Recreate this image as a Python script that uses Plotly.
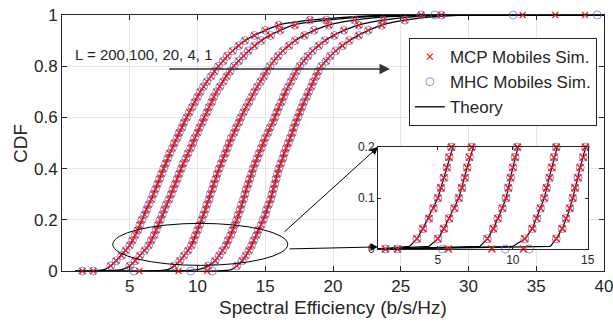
import plotly.graph_objects as go

# ---------------- data ----------------
# marker CDF levels (empirical CDF quantiles)
mk_cdf = [0.0] + [round(0.02 * i, 2) for i in range(1, 50)] + [1.0]

mcp_x1 = [1.5, 3.6, 4.0, 4.4, 4.7, 5.0, 5.2, 5.4, 5.6, 5.75, 5.9, 6.1, 6.25, 6.4, 6.6, 6.75, 6.9, 7.05, 7.2, 7.35, 7.5,
          7.65, 7.8, 7.95, 8.15, 8.3, 8.5, 8.65, 8.85, 9.0, 9.2, 9.4, 9.6, 9.8, 10.0, 10.2, 10.45, 10.7, 11.0, 11.25,
          11.55, 11.9, 12.2, 12.6, 13.05, 13.5, 14.2, 15.0, 16.0, 18.3, 26.5]
mcp_x2 = [2.3, 5.0, 5.4, 5.75, 6.1, 6.4, 6.6, 6.8, 6.95, 7.1, 7.25, 7.4, 7.55, 7.7, 7.9, 8.05, 8.2, 8.35, 8.5, 8.65, 8.8,
          8.95, 9.15, 9.3, 9.5, 9.65, 9.8, 10.0, 10.15, 10.35, 10.5, 10.7, 10.85, 11.05, 11.2, 11.4, 11.65, 11.9, 12.15,
          12.4, 12.7, 13.05, 13.4, 13.75, 14.2, 14.7, 15.4, 16.1, 17.2, 19.5, 28.0]
mcp_x3 = [5.7, 8.3, 8.7, 9.0, 9.3, 9.55, 9.7, 9.85, 10.0, 10.15, 10.3, 10.45, 10.6, 10.7, 10.85, 10.95, 11.1, 11.2, 11.35,
          11.45, 11.6, 11.75, 11.9, 12.05, 12.2, 12.35, 12.5, 12.7, 12.85, 13.05, 13.2, 13.4, 13.6, 13.8, 14.0, 14.2,
          14.4, 14.65, 14.9, 15.1, 15.35, 15.65, 15.95, 16.3, 16.75, 17.2, 17.9, 18.6, 19.7, 21.6, 34.0]
mcp_x4 = [8.6, 10.8, 11.3, 11.6, 11.85, 12.1, 12.25, 12.45, 12.6, 12.75, 12.9, 13.0, 13.15, 13.25, 13.4, 13.5, 13.6,
          13.75, 13.85, 14.0, 14.1, 14.25, 14.4, 14.55, 14.7, 14.85, 15.0, 15.2, 15.35, 15.55, 15.7, 15.85, 16.0, 16.2,
          16.35, 16.5, 16.7, 16.9, 17.1, 17.3, 17.55, 17.85, 18.15, 18.5, 18.95, 19.4, 20.1, 20.8, 21.9, 23.7, 36.4]
mcp_x5 = [10.7, 12.9, 13.3, 13.55, 13.8, 14.0, 14.15, 14.35, 14.5, 14.7, 14.85, 15.0, 15.1, 15.25, 15.4, 15.5, 15.6,
          15.7, 15.8, 15.9, 16.0, 16.15, 16.3, 16.4, 16.55, 16.7, 16.85, 17.0, 17.1, 17.25, 17.4, 17.55, 17.7, 17.85,
          18.05, 18.2, 18.4, 18.55, 18.75, 18.9, 19.15, 19.5, 19.8, 20.2, 20.7, 21.2, 21.9, 22.6, 23.6, 25.3, 38.6]

mhc_x1 = [1.5] + mcp_x1[1:-1] + [26.5]
mhc_x2 = [2.3] + mcp_x2[1:-1] + [28.0]
mhc_x3 = [5.3] + mcp_x3[1:-1] + [27.5]
mhc_x4 = [9.5] + mcp_x4[1:-1] + [33.3]
mhc_x5 = [11.1] + mcp_x5[1:-1] + [39.5]

# theory curves
th_cdf = [0.0, 0.005, 0.02, 0.04, 0.07, 0.10, 0.16, 0.22, 0.30, 0.40, 0.50, 0.60, 0.70, 0.79, 0.85, 0.90, 0.94,
          0.965, 0.98, 0.99, 0.997, 1.0, 1.0]
th_x1 = [1, 3.1, 3.6, 4.0, 4.5, 5.0, 5.6, 6.05, 6.75, 7.5, 8.3, 9.2, 10.2, 11.4, 12.4, 13.5, 15.0, 16.3, 18.3, 20.5,
         23, 26, 40]
th_x2 = [1, 4.4, 5.0, 5.4, 5.9, 6.4, 6.95, 7.45, 8.05, 8.8, 9.65, 10.5, 11.4, 12.5, 13.6, 14.7, 16.1, 17.4, 19.5,
         21.5, 24, 27, 40]
th_x3 = [1, 7.8, 8.3, 8.7, 9.15, 9.55, 10.0, 10.45, 10.95, 11.6, 12.35, 13.2, 14.2, 15.2, 16.1, 17.2, 18.6, 20.0,
         21.6, 23.2, 25.5, 28, 40]
th_x4 = [1, 10.0, 10.8, 11.3, 11.7, 12.1, 12.6, 13.05, 13.5, 14.1, 14.85, 15.7, 16.5, 17.4, 18.3, 19.4, 20.8, 22.2,
         23.7, 25.2, 27, 29, 40]
th_x5 = [1, 12.5, 12.9, 13.3, 13.7, 14.0, 14.5, 15.0, 15.5, 16.0, 16.7, 17.4, 18.2, 19.0, 20.0, 21.2, 22.6, 23.9,
         25.3, 26.7, 28.5, 30, 40]

x_ticks = [5, 10, 15, 20, 25, 30, 35, 40]
y_ticks = [0, 0.2, 0.4, 0.6, 0.8, 1]
y_tick_text = ["0", "0.2", "0.4", "0.6", "0.8", "1"]
inset_x_ticks = [5, 10, 15]
inset_y_ticks = [0, 0.1, 0.2]
inset_y_text = ["0", "0.1", "0.2"]

mcp_all = [mcp_x1, mcp_x2, mcp_x3, mcp_x4, mcp_x5]
mhc_all = [mhc_x1, mhc_x2, mhc_x3, mhc_x4, mhc_x5]
th_all = [th_x1, th_x2, th_x3, th_x4, th_x5]

RED = "#ff1a1a"
BLUE = "#6478d8"
AX = "#262626"
FONT = "Liberation Sans, Arial, sans-serif"

fig = go.Figure()


def in_inset(xs, ys):
    px, py = [], []
    for a, b in zip(xs, ys):
        if 1 <= a <= 15 and 0 <= b <= 0.2:
            px.append(a)
            py.append(b)
    return px, py


for k in range(5):
    fig.add_trace(go.Scatter(x=th_all[k], y=th_cdf, mode="lines", line=dict(color="black", width=1.3, shape="spline", smoothing=0.6),
                             name="Theory", legendgroup="th", showlegend=(k == 0), legendrank=3))
for k in range(5):
    fig.add_trace(go.Scatter(x=mhc_all[k], y=mk_cdf, mode="markers", cliponaxis=False,
                             marker=dict(symbol="circle-open", size=8, color=BLUE, line=dict(width=0.8)),
                             name="MHC Mobiles Sim.", legendgroup="mhc", showlegend=(k == 0), legendrank=2))
for k in range(5):
    fig.add_trace(go.Scatter(x=mcp_all[k], y=mk_cdf, mode="markers", cliponaxis=False,
                             marker=dict(symbol="x-thin-open", size=6, color=RED, line=dict(width=1.2, color=RED)),
                             name="MCP Mobiles Sim.", legendgroup="mcp", showlegend=(k == 0), legendrank=1))

# inset traces
for k in range(5):
    fig.add_trace(go.Scatter(x=th_all[k], y=th_cdf, mode="lines", line=dict(color="black", width=1.2),
                             xaxis="x2", yaxis="y2", showlegend=False))
for k in range(5):
    ix, iy = in_inset(mhc_all[k], mk_cdf)
    fig.add_trace(go.Scatter(x=ix, y=iy, mode="markers", cliponaxis=False,
                             marker=dict(symbol="circle-open", size=8, color=BLUE, line=dict(width=0.8)),
                             xaxis="x2", yaxis="y2", showlegend=False))
for k in range(5):
    ix, iy = in_inset(mcp_all[k], mk_cdf)
    fig.add_trace(go.Scatter(x=ix, y=iy, mode="markers", cliponaxis=False,
                             marker=dict(symbol="x-thin-open", size=7, color=RED, line=dict(width=1.5, color=RED)),
                             xaxis="x2", yaxis="y2", showlegend=False))

axis_common = dict(showline=True, linecolor=AX, linewidth=1, mirror="ticks", ticks="inside", ticklen=5,
                   tickcolor=AX, tickfont=dict(size=17, color=AX, family=FONT), gridcolor="#e6e6e6",
                   gridwidth=1, zeroline=False, showgrid=True, automargin=False, ticklabeloverflow="allow")

fig.update_layout(
    width=613, height=327,
    margin=dict(l=62, r=9, t=15, b=56),
    paper_bgcolor="white", plot_bgcolor="white",
    font=dict(family=FONT, color=AX),
    xaxis=dict(range=[0, 40], tickvals=x_ticks, **axis_common),
    yaxis=dict(range=[0, 1], tickvals=y_ticks, ticktext=y_tick_text, **axis_common),
    xaxis2=dict(domain=[0.583, 0.970], anchor="y2", range=[1, 15], tickvals=inset_x_ticks, showline=True, linecolor=AX,
                mirror="ticks", ticks="inside", ticklen=3, tickcolor=AX, tickfont=dict(size=12, color=AX, family=FONT),
                showgrid=False, zeroline=False, automargin=False),
    yaxis2=dict(domain=[0.086, 0.484], anchor="x2", range=[0, 0.2], tickvals=inset_y_ticks, ticktext=inset_y_text,
                showline=True, linecolor=AX, mirror="ticks", ticks="inside", ticklen=3, tickcolor=AX,
                tickfont=dict(size=12, color=AX, family=FONT), showgrid=False, zeroline=False, automargin=False),
    legend=dict(x=0.64, y=0.91, xanchor="left", yanchor="top", bgcolor="white", bordercolor=AX, borderwidth=1,
                font=dict(size=17, color=AX, family=FONT), tracegroupgap=0, itemwidth=30),
    showlegend=True,
)

# axis titles
fig.add_annotation(x=0.5, y=-0.141, xref="paper", yref="paper", text="Spectral Efficiency (b/s/Hz)", showarrow=False,
                   xanchor="center", yanchor="middle", font=dict(size=19, color=AX, family=FONT))
fig.add_annotation(x=-0.0775, y=0.5, xref="paper", yref="paper", text="CDF", showarrow=False, textangle=-90,
                   xanchor="center", yanchor="middle", font=dict(size=19, color=AX, family=FONT))

# ellipse around the zoomed region
fig.add_shape(type="circle", xref="x", yref="y", x0=3.75, x1=16.66, y0=0.022, y1=0.186,
              line=dict(color="black", width=1))

# L annotation and arrow
fig.add_annotation(x=0.8, y=0.845, xref="x", yref="y", text="L = 200,100, 20, 4, 1", showarrow=False,
                   xanchor="left", yanchor="middle", font=dict(size=15, color=AX, family=FONT))
fig.add_annotation(x=24.2, y=0.789, xref="x", yref="y", ax=7.8, ay=0.789, axref="x", ayref="y", text="",
                   showarrow=True, arrowhead=2, arrowsize=1.6, arrowwidth=1.3, arrowcolor="#333333")

# arrows from ellipse to inset corners
fig.add_annotation(x=0.583, y=0.484, xref="paper", yref="paper", ax=-95, ay=86, axref="pixel", ayref="pixel",
                   text="", showarrow=True, arrowhead=2, arrowsize=1.5, arrowwidth=1, arrowcolor="black")
fig.add_annotation(x=0.583, y=0.094, xref="paper", yref="paper", ax=-90, ay=2, axref="pixel", ayref="pixel",
                   text="", showarrow=True, arrowhead=2, arrowsize=1.5, arrowwidth=1, arrowcolor="black")

fig.write_html("out.html", config={"displayModeBar": False, "staticPlot": True},
               post_script="document.body.style.margin='0';document.body.style.overflow='hidden';")
